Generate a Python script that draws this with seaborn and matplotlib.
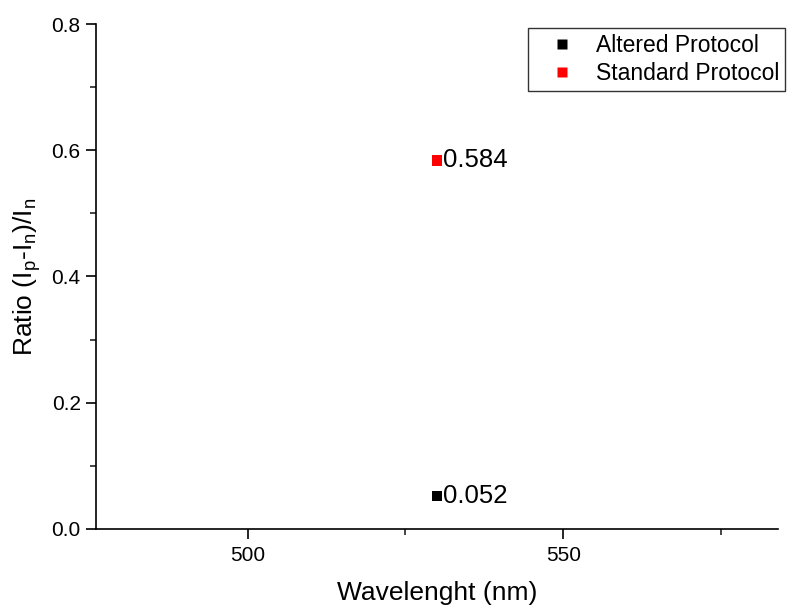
import matplotlib
matplotlib.use("Agg")
import matplotlib.pyplot as plt
import seaborn as sns
import pandas as pd
from matplotlib.ticker import MultipleLocator
from matplotlib.lines import Line2D

protocols = ["Altered Protocol", "Standard Protocol"]
wavelengths = [530, 530]
ratios = [0.052, 0.584]
labels = ["0.052", "0.584"]
colors = ["#000000", "#ff0000"]

sns.set_style("ticks")
plt.rcParams["font.family"] = ["Liberation Sans", "DejaVu Sans"]
plt.rcParams["mathtext.fontset"] = "custom"
plt.rcParams["mathtext.rm"] = "Liberation Sans"
plt.rcParams["mathtext.it"] = "Liberation Sans"
plt.rcParams["text.color"] = "black"
plt.rcParams["axes.labelcolor"] = "black"

df = pd.DataFrame({"Protocol": protocols, "Wavelength": wavelengths, "Ratio": ratios})

fig = plt.figure(figsize=(7.87, 6.10), dpi=100)
ax = fig.add_axes([96/787, 1-529/610, (778-96)/787, (529-24)/610])

sns.scatterplot(data=df, x="Wavelength", y="Ratio", hue="Protocol",
                palette=dict(zip(protocols, colors)), marker="s", s=55,
                edgecolor="none", ax=ax, legend=False, zorder=3)

for xv, yv, lab in zip(wavelengths, ratios, labels):
    ax.annotate(lab, (xv, yv), xytext=(4, 0), textcoords="offset points",
                ha="left", va="center", fontsize=18.5, color="black")

ax.set_xlim(476, 584)
ax.set_ylim(0, 0.8)
ax.xaxis.set_major_locator(MultipleLocator(50))
ax.xaxis.set_minor_locator(MultipleLocator(25))
ax.yaxis.set_major_locator(MultipleLocator(0.2))
ax.yaxis.set_minor_locator(MultipleLocator(0.1))
ax.yaxis.set_major_formatter(matplotlib.ticker.FormatStrFormatter("%.1f"))

for s in ["top", "right"]:
    ax.spines[s].set_visible(False)
for s in ["left", "bottom"]:
    ax.spines[s].set_linewidth(1.2)
    ax.spines[s].set_color("black")

ax.tick_params(axis="both", which="major", length=7, width=1.2, direction="out",
               labelsize=15, colors="black")
ax.tick_params(axis="y", which="major", pad=4)
ax.tick_params(axis="x", which="major", pad=5)
ax.tick_params(axis="both", which="minor", length=4, width=1.2, direction="out")

ax.set_xlabel("Wavelenght (nm)", fontsize=19, labelpad=12)
ax.set_ylabel(r"Ratio (I$_\mathregular{p}$-I$_\mathregular{n}$)/I$_\mathregular{n}$",
              fontsize=19, labelpad=6)

handles = [Line2D([0], [0], marker="s", linestyle="none", markersize=7,
                  markerfacecolor=c, markeredgecolor="none") for c in colors]
leg = fig.legend(handles, protocols, loc="upper left",
                 bbox_to_anchor=(528/787, 1-28/610), fontsize=16.5,
                 frameon=True, fancybox=False, framealpha=1,
                 edgecolor="#333333", borderpad=0.25, handletextpad=0.2,
                 labelspacing=0.25, handlelength=2.5, borderaxespad=0)
leg.get_frame().set_linewidth(1.0)

fig.savefig("out.png", dpi=100)
